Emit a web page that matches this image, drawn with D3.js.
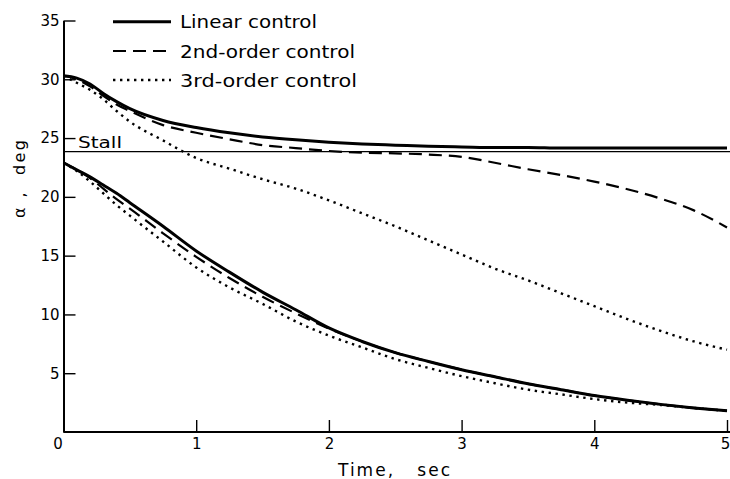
<!DOCTYPE html>
<html>
<head>
<meta charset="utf-8">
<script src="https://cdn.jsdelivr.net/npm/d3@7"></script>
<style>
  body { margin: 0; background: #fff; }
  svg { display: block; font-family: "DejaVu Sans", sans-serif; }
</style>
</head>
<body>
<div id="content"></div>
<script>
// time grid (sec) shared by all curves
const time = [0, 0.1, 0.2, 0.3, 0.4, 0.5, 0.75, 1, 1.25, 1.5, 1.75, 2, 2.25, 2.5, 2.75, 3, 3.25, 3.5, 3.75, 4, 4.25, 4.5, 4.75, 5];

// upper set (starting at 30 deg)
const linearUpper = [30.3, 30.1, 29.6, 28.8, 28.1, 27.5, 26.5, 25.9, 25.45, 25.1, 24.85, 24.65, 24.5, 24.4, 24.3, 24.25, 24.2, 24.2, 24.15, 24.15, 24.15, 24.15, 24.15, 24.15];
const secondUpper = [30.3, 30.0, 29.4, 28.6, 27.85, 27.3, 26.1, 25.45, 24.9, 24.4, 24.15, 23.9, 23.75, 23.7, 23.6, 23.4, 22.9, 22.35, 21.85, 21.3, 20.65, 19.85, 18.85, 17.4];
const thirdUpper = [30.3, 29.7, 29.1, 28.3, 27.3, 26.4, 24.8, 23.3, 22.4, 21.5, 20.7, 19.7, 18.6, 17.5, 16.3, 15.1, 13.9, 12.9, 11.8, 10.7, 9.6, 8.6, 7.7, 7.0];

// lower set (starting at ~23 deg)
const linearLower = [22.9, 22.3, 21.7, 21.0, 20.3, 19.5, 17.5, 15.4, 13.6, 11.9, 10.4, 8.85, 7.7, 6.75, 6.0, 5.3, 4.7, 4.1, 3.6, 3.1, 2.7, 2.35, 2.05, 1.8];
const secondLower = [22.9, 22.3, 21.6, 20.7, 19.8, 19.0, 16.9, 14.9, 13.1, 11.5, 10.1, 8.8, 7.7, 6.75, 6.0, 5.3, 4.7, 4.1, 3.6, 3.1, 2.7, 2.35, 2.05, 1.8];
const thirdLower = [22.9, 22.2, 21.3, 20.3, 19.3, 18.4, 16.2, 14.0, 12.3, 10.9, 9.4, 8.2, 7.2, 6.2, 5.45, 4.75, 4.15, 3.6, 3.2, 2.8, 2.5, 2.3, 2.05, 1.8];

const stallAngle = 23.85;

const xTicks = [0, 1, 2, 3, 4, 5];
const yTicks = [5, 10, 15, 20, 25, 30, 35];
const legendLabels = ['Linear control', '2nd-order control', '3rd-order control'];

const width = 730, height = 479;

const svg = d3.select('#content').append('svg')
    .attr('width', width)
    .attr('height', height);

const x = d3.scaleLinear().domain([0, 5]).range([63.5, 727]);
const y = d3.scaleLinear().domain([0, 35]).range([432, 20.5]);

const styles = [
    { w: 3, dash: null },
    { w: 2.2, dash: '13,7' },
    { w: 2.4, dash: '2.4,4.6' }
];

const series = [
    { v: linearUpper, s: 0 },
    { v: secondUpper, s: 1 },
    { v: thirdUpper, s: 2 },
    { v: linearLower, s: 0 },
    { v: secondLower, s: 1 },
    { v: thirdLower, s: 2 }
];

// axes
const xAxis = svg.append('g')
    .attr('transform', 'translate(0,' + y(0) + ')')
    .call(d3.axisBottom(x).tickValues(xTicks).tickFormat(d3.format('d'))
        .tickSize(-12).tickSizeOuter(0).tickPadding(6));
const yAxis = svg.append('g')
    .attr('transform', 'translate(' + x(0) + ',0)')
    .call(d3.axisLeft(y).tickValues(yTicks).tickFormat(d3.format('d'))
        .tickSize(-12).tickSizeOuter(0).tickPadding(4));

[xAxis, yAxis].forEach(a => {
    a.select('.domain').attr('stroke', '#000').attr('stroke-width', 2);
    a.selectAll('.tick line').attr('stroke', '#000').attr('stroke-width', 1.4);
    a.selectAll('.tick text')
        .attr('fill', '#000')
        .style('font-size', '15px')
        .style('font-family', '"DejaVu Sans", sans-serif');
});
xAxis.select('.domain').attr('d', 'M' + x(0) + ',0H730');
// the origin label sits to the left of the corner
xAxis.selectAll('.tick').filter(d => d === 0).select('text').attr('x', -6);
xAxis.selectAll('.tick').filter(d => d === 0).select('line').remove();
// keep the last label inside the frame
xAxis.selectAll('.tick').filter(d => d === 5).select('text').attr('x', -2);

// stall line
svg.append('line')
    .attr('x1', x(0)).attr('x2', 730)
    .attr('y1', y(stallAngle)).attr('y2', y(stallAngle))
    .attr('stroke', '#000').attr('stroke-width', 1.3);
svg.append('text')
    .attr('x', 78).attr('y', 148)
    .attr('textLength', 44).attr('lengthAdjust', 'spacingAndGlyphs')
    .style('font-size', '15px')
    .text('Stall');

// curves
const line = d3.line()
    .x((d, i) => x(time[i]))
    .y(d => y(d))
    .curve(d3.curveMonotoneX);

svg.selectAll('path.curve').data(series).enter().append('path')
    .classed('curve', true)
    .attr('d', d => line(d.v))
    .attr('fill', 'none')
    .attr('stroke', '#000')
    .attr('stroke-width', d => styles[d.s].w)
    .attr('stroke-dasharray', d => styles[d.s].dash);

// legend
const legendY = [21.7, 51, 80];
const legendW = [137, 175, 177];
const legend = svg.selectAll('g.legend').data(legendLabels).enter().append('g')
    .classed('legend', true)
    .attr('transform', (d, i) => 'translate(0,' + legendY[i] + ')');
legend.append('line')
    .attr('x1', 113).attr('x2', 171)
    .attr('stroke', '#000')
    .attr('stroke-width', (d, i) => styles[i].w)
    .attr('stroke-dasharray', (d, i) => styles[i].dash);
legend.append('text')
    .attr('x', 180).attr('y', 6.5)
    .attr('textLength', (d, i) => legendW[i]).attr('lengthAdjust', 'spacingAndGlyphs')
    .style('font-size', '17px')
    .text(d => d);

// axis titles
svg.append('text')
    .attr('x', 338).attr('y', 476)
    .attr('textLength', 112).attr('lengthAdjust', 'spacing')
    .style('font-size', '17px')
    .attr('xml:space', 'preserve')
    .text('Time,   sec');
svg.append('text')
    .attr('transform', 'translate(25,218) rotate(-90)')
    .attr('textLength', 78).attr('lengthAdjust', 'spacing')
    .style('font-size', '16px')
    .attr('xml:space', 'preserve')
    .text('α ,  deg');
</script>
</body>
</html>
